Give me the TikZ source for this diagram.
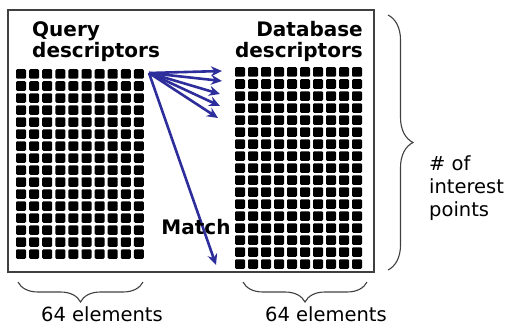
\documentclass[tikz,border=0pt]{standalone}
\usepackage{fontspec}
\setmainfont{DejaVu Sans}
\usepackage{tikz}
\usetikzlibrary{arrows.meta,decorations.pathreplacing,positioning}
\definecolor{matchblue}{RGB}{45,45,155}

\begin{document}
\begin{tikzpicture}[x=1pt, y=-1pt,
    cell style/.style={rectangle, fill=black, rounded corners=1.2pt, minimum width=10pt, minimum height=9.5pt, inner sep=0pt},
    title style/.style={font=\fontsize{20}{21}\selectfont\bfseries, inner sep=0pt},
    label style/.style={font=\fontsize{19.5}{23}\selectfont, inner sep=0pt},
    link style/.style={draw=matchblue, line width=2.6pt, -{Stealth[length=11pt,width=10pt]}},
    brace style/.style={decorate, draw=black!75, line width=1.1pt, decoration={brace, amplitude=#1}}
]
\useasboundingbox (0,0) rectangle (506,329);
\draw[draw=black!75, line width=1.8pt] (8,10) rectangle (374,272);

\foreach \col in {0,...,9}
  \foreach \row in {0,...,15}
    \node[cell style] (q-\col-\row) at ({21+13.1*\col},{74+12*\row}) {};
\foreach \col in {0,...,9}
  \foreach \row in {0,...,16}
    \node[cell style] (d-\col-\row) at ({240+13*\col},{72+12*\row}) {};

\node[title style, align=left, anchor=north west] (qtitle) at (32,21) {Query\\descriptors};
\node[title style, align=right, anchor=north east] (dtitle) at (363,21) {Database\\descriptors};

\coordinate (src) at (149,73);
\foreach \tx/\ty [count=\k] in {222/71, 222/81, 220/94, 220/106, 218/118} {
  \coordinate (m-\k) at (\tx,\ty);
  \draw[link style] (src) -- (m-\k);
}
\coordinate (hit) at (216,265);
\draw[link style] (src) -- (hit);
\node[title style] (match) at (196,227) {Match};

\draw[brace style=20pt] (143,282) -- (18,282);
\draw[brace style=20pt] (367,282) -- (243,282);
\draw[brace style=25pt] (388,15) -- (388,270);

\node[label style] (qlen) at (102,314) {64 elements};
\node[label style] (dlen) at (326,314) {64 elements};
\node[label style, align=left, anchor=west] (npts) at (429,188) {\# of\\interest\\points};
\end{tikzpicture}
\end{document}
